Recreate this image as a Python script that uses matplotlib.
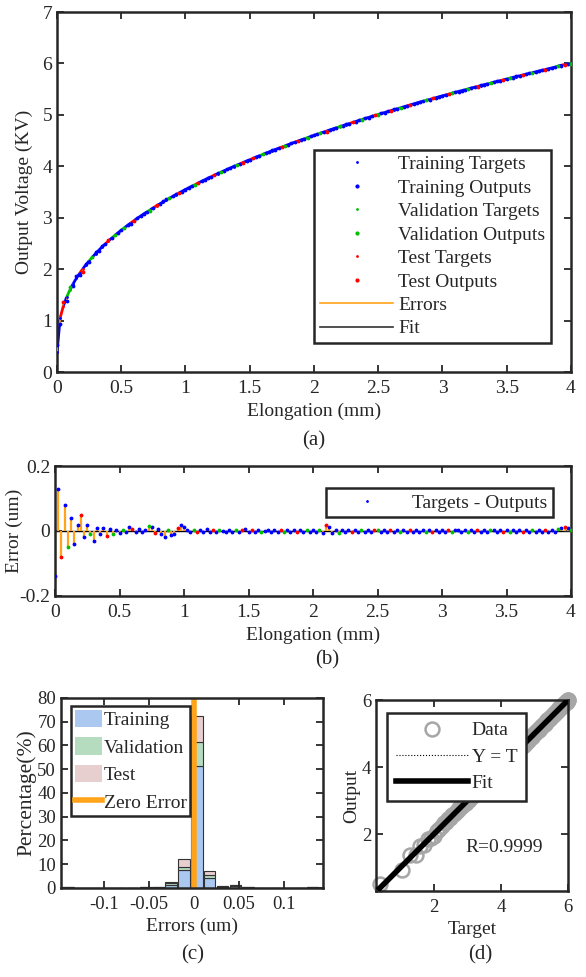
import numpy as np
import matplotlib
matplotlib.use("Agg")
import matplotlib.pyplot as plt
from matplotlib.patches import Patch
from matplotlib.lines import Line2D
from matplotlib.collections import LineCollection

# sample grid of the measurement (mm), 0.025 mm apart
elongation_mm = np.linspace(0, 4, 161)

target_kv = [
    0.38, 1.06, 1.29, 1.457, 1.595, 1.714, 1.820, 1.916, 2.004, 2.086,
    2.162, 2.235, 2.303, 2.369, 2.431, 2.490, 2.548, 2.603, 2.657, 2.708,
    2.759, 2.807, 2.854, 2.900, 2.946, 2.989, 3.032, 3.074, 3.115, 3.154,
    3.194, 3.233, 3.270, 3.307, 3.344, 3.379, 3.415, 3.449, 3.483, 3.517,
    3.550, 3.583, 3.615, 3.646, 3.678, 3.708, 3.739, 3.769, 3.798, 3.828,
    3.857, 3.885, 3.913, 3.941, 3.969, 3.996, 4.023, 4.050, 4.076, 4.103,
    4.129, 4.154, 4.180, 4.205, 4.230, 4.255, 4.279, 4.304, 4.328, 4.352,
    4.375, 4.399, 4.422, 4.445, 4.468, 4.491, 4.513, 4.536, 4.558, 4.580,
    4.602, 4.624, 4.645, 4.666, 4.688, 4.709, 4.729, 4.751, 4.771, 4.792,
    4.812, 4.832, 4.852, 4.872, 4.892, 4.912, 4.932, 4.951, 4.971, 4.990,
    5.009, 5.028, 5.047, 5.066, 5.085, 5.103, 5.122, 5.140, 5.158, 5.177,
    5.195, 5.213, 5.231, 5.249, 5.266, 5.284, 5.301, 5.319, 5.336, 5.353,
    5.370, 5.388, 5.405, 5.422, 5.439, 5.456, 5.472, 5.489, 5.505, 5.522,
    5.538, 5.554, 5.571, 5.587, 5.603, 5.619, 5.635, 5.651, 5.666, 5.682,
    5.698, 5.714, 5.730, 5.745, 5.761, 5.776, 5.791, 5.806, 5.822, 5.837,
    5.852, 5.867, 5.882, 5.897, 5.912, 5.926, 5.950, 5.965, 5.980, 5.995,
    6.000,
]

errors = [
    -0.14, 0.13, -0.08, 0.08, -0.05, 0.04, -0.04, 0.02, 0.05, -0.02,
    0.02, -0.01, -0.03, 0.01, -0.01, 0.008, -0.015, 0.005, -0.01, 0.004,
    -0.005, 0.003, -0.004, 0.012, 0.005, -0.003, 0.006, -0.004, 0.004, 0.015,
    0.012, -0.006, 0.006, -0.01, -0.018, 0.003, -0.012, -0.008, 0.01, 0.02,
    0.012, 0.004, -0.003, 0.002, -0.004, 0.003, -0.002, 0.005, -0.003, 0.002,
    -0.004, 0.003, 0.001, -0.003, 0.004, -0.002, 0.003, -0.004, 0.002, 0.005,
    -0.003, 0.002, -0.002, 0.004, -0.003, 0.001, 0.003, -0.004, 0.002, -0.002,
    0.003, -0.003, 0.004, -0.002, 0.002, -0.004, 0.003, -0.002, 0.004, -0.003,
    0.002, -0.004, 0.003, -0.005, 0.018, 0.012, -0.006, 0.004, -0.005, 0.003,
    -0.003, 0.002, -0.002, 0.003, -0.004, 0.002, -0.002, 0.003, -0.003, 0.002,
    0.003, -0.002, 0.002, -0.003, 0.004, -0.002, 0.002, -0.003, 0.003, -0.002,
    0.002, -0.003, 0.003, -0.002, 0.004, -0.003, 0.002, -0.002, 0.003, -0.004,
    0.002, -0.002, 0.003, -0.003, 0.002, 0.004, -0.002, 0.003, -0.003, 0.002,
    -0.002, 0.003, -0.004, 0.002, -0.003, 0.002, 0.003, -0.002, 0.002, -0.003,
    0.003, -0.002, 0.004, -0.003, 0.002, -0.002, 0.003, -0.003, 0.002, -0.002,
    0.003, -0.002, 0.004, -0.003, 0.004, -0.002, 0.006, 0.01, 0.012, 0.008,
    0.003,
]

# T = training, V = validation, S = test
split = ("TTSTVTTTSTTVTTTTSTVT" "TVTTSTTTTVTSTTTVTTST" "TTTVSTTTTSTVTTTTVTST"
         "TSTTVTTTTTSVTTTSTTVT" "TTVTSTTTVTTTSTTVTTTS" "VTTTSTTVTTSTTTTVTSTT"
         "TTSVTTTTVTTSTTTVTTTS" "TVTTTSTTVTTTSTTTVTST" "V")

hist_centers = [-0.140, -0.1257, -0.1114, -0.0971, -0.0829, -0.0686, -0.0543,
                -0.0400, -0.0257, -0.0114, 0.0029, 0.0171, 0.0314, 0.0457,
                0.0600, 0.0743, 0.0886, 0.1029, 0.1171, 0.1314]
hist_train = [0.3, 0.1, 0.1, 0.1, 0.2, 0.1, 0.3, 0.4, 1.2, 7.5,
              51.5, 4.0, 0.6, 1.0, 0.3, 0.1, 0.1, 0.1, 0.1, 0.3]
hist_val = [0.0, 0.0, 0.0, 0.0, 0.0, 0.0, 0.0, 0.1, 1.0, 1.5,
            10.0, 1.5, 0.1, 0.2, 0.0, 0.0, 0.0, 0.0, 0.0, 0.0]
hist_test = [0.0, 0.0, 0.0, 0.0, 0.0, 0.0, 0.0, 0.1, 0.4, 3.0,
             11.0, 1.5, 0.1, 0.0, 0.0, 0.0, 0.0, 0.0, 0.0, 0.0]

plt.rcParams['font.family'] = ['Liberation Serif', 'DejaVu Serif']
plt.rcParams['xtick.direction'] = 'in'
plt.rcParams['ytick.direction'] = 'in'
plt.rcParams['xtick.top'] = True
plt.rcParams['ytick.right'] = True
plt.rcParams['xtick.major.size'] = 5
plt.rcParams['ytick.major.size'] = 5
plt.rcParams['xtick.major.width'] = 1.3
plt.rcParams['ytick.major.width'] = 1.3
plt.rcParams['xtick.major.pad'] = 6
plt.rcParams['axes.linewidth'] = 1.8
plt.rcParams['axes.edgecolor'] = '#262626'
plt.rcParams['xtick.color'] = '#262626'
plt.rcParams['ytick.color'] = '#262626'
plt.rcParams['text.color'] = '#262626'
plt.rcParams['axes.labelcolor'] = '#262626'

x = np.asarray(elongation_mm)
t = np.asarray(target_kv)
err = np.asarray(errors)
out = t - err
codes = np.array(list(split))

ORANGE = '#ffa31a'
colors = {'T': '#0000ff', 'V': '#00c000', 'S': '#ff0000'}
names = {'T': 'Training', 'V': 'Validation', 'S': 'Test'}
FS = 14

fig = plt.figure(figsize=(5.86, 9.77), dpi=100)

# ---- (a) response ----
ax = fig.add_axes([0.0973, 0.6192, 0.877, 0.3685])
segs = [[(x[i], t[i]), (x[i + 1], t[i + 1])] for i in range(len(x) - 1)]
ax.add_collection(LineCollection(segs, colors=[colors[c] for c in codes[1:]], lw=2.0, zorder=2))
ax.vlines(x, t, out, color=ORANGE, lw=1.2, zorder=3)
for c in 'TVS':
    m = codes == c
    ax.plot(x[m], t[m], '.', color=colors[c], ms=2, zorder=4)
    ax.plot(x[m], out[m], '.', color=colors[c], ms=3.5, zorder=5)
ax.set_xlim(0, 4)
ax.set_ylim(0, 7)
ax.set_xticks([0, 0.5, 1, 1.5, 2, 2.5, 3, 3.5, 4])
ax.set_xticklabels(['0', '0.5', '1', '1.5', '2', '2.5', '3', '3.5', '4'])
ax.tick_params(labelsize=FS)
ax.set_xlabel('Elongation (mm)', fontsize=FS, labelpad=4)
ax.set_ylabel('Output Voltage (KV)', fontsize=FS, labelpad=7)
handles = []
for c in 'TVS':
    handles.append(Line2D([], [], ls='none', marker='.', ms=2, color=colors[c],
                          label=names[c] + ' Targets'))
    handles.append(Line2D([], [], ls='none', marker='.', ms=4, color=colors[c],
                          label=names[c] + ' Outputs'))
handles.append(Line2D([], [], color=ORANGE, lw=1.2, label='Errors'))
handles.append(Line2D([], [], color='#333333', lw=1.2, label='Fit'))
leg = ax.legend(handles=handles, loc='lower right', bbox_to_anchor=(0.961, 0.08),
                fontsize=FS, handlelength=3.75, handletextpad=0.25, labelspacing=0.3,
                borderpad=0.3, borderaxespad=0, fancybox=False, edgecolor='#262626',
                framealpha=1)
leg.get_frame().set_linewidth(1.8)
fig.text(0.536, 0.5486, '(a)', ha='center', va='center', fontsize=15)

# ---- (b) error ----
ax = fig.add_axes([0.0939, 0.390, 0.8805, 0.133])
ax.axhline(0, color='k', lw=1, zorder=1)
ax.vlines(x, 0, err, color=ORANGE, lw=1.6, zorder=2)
for c in 'TVS':
    m = codes == c
    ax.plot(x[m], err[m], '.', color=colors[c], ms=3.5, zorder=3)
ax.set_xlim(0, 4)
ax.set_ylim(-0.2, 0.2)
ax.set_yticks([-0.2, 0, 0.2])
ax.set_yticklabels(['-0.2', '0', '0.2'])
ax.set_xticks([0, 0.5, 1, 1.5, 2, 2.5, 3, 3.5, 4])
ax.set_xticklabels(['0', '0.5', '1', '1.5', '2', '2.5', '3', '3.5', '4'])
ax.tick_params(labelsize=FS)
ax.set_xlabel('Elongation (mm)', fontsize=FS, labelpad=4)
ax.set_ylabel('Error (um)', fontsize=FS)
ax.yaxis.set_label_coords(-0.062, 0.5)
leg = ax.legend(handles=[Line2D([], [], ls='none', marker='.', ms=2, color='#0000ff',
                                label='Targets - Outputs')],
                loc='upper right', bbox_to_anchor=(0.965, 0.83), fontsize=FS,
                handlelength=3.6, handletextpad=0.5, borderpad=0.3, borderaxespad=0,
                fancybox=False, edgecolor='#262626', framealpha=1)
leg.get_frame().set_linewidth(1.8)
fig.text(0.558, 0.3245, '(b)', ha='center', va='center', fontsize=15)

# ---- (c) error histogram ----
ax = fig.add_axes([0.104, 0.0911, 0.447, 0.1945])
bw = 0.0128
tr = np.asarray(hist_train)
va = np.asarray(hist_val)
te = np.asarray(hist_test)
ax.bar(hist_centers, tr, width=bw, color='#aac8f0', edgecolor='#333333', lw=0.8)
ax.bar(hist_centers, va, width=bw, bottom=tr, color='#b6dcc0', edgecolor='#333333', lw=0.8)
ax.bar(hist_centers, te, width=bw, bottom=tr + va, color='#e8cfcf', edgecolor='#333333', lw=0.8)
ax.axvline(0, color=ORANGE, lw=4)
ax.set_xlim(-0.148, 0.143)
ax.set_ylim(0, 80)
ax.set_yticks(range(0, 81, 10))
ax.set_xticks([-0.1, -0.05, 0, 0.05, 0.1])
ax.set_xticklabels(['-0.1', '-0.05', '0', '0.05', '0.1'])
ax.tick_params(labelsize=13.5)
ax.set_xlabel('Errors (um)', fontsize=FS, labelpad=3)
ax.set_ylabel('Percentage(%)', fontsize=15.5, labelpad=1)
hh = [Patch(facecolor='#aac8f0', label='Training'),
      Patch(facecolor='#b6dcc0', label='Validation'),
      Patch(facecolor='#e8cfcf', label='Test'),
      Line2D([], [], color=ORANGE, lw=4, label='Zero Error')]
leg = ax.legend(handles=hh, loc='upper left', bbox_to_anchor=(0.038, 0.958),
                fontsize=FS, handlelength=1.4, handleheight=1.0, handletextpad=0.08,
                labelspacing=0.42, borderpad=0.2, borderaxespad=0,
                fancybox=False, edgecolor='#262626', framealpha=1)
leg.get_frame().set_linewidth(1.8)
fig.text(0.328, 0.0225, '(c)', ha='center', va='center', fontsize=15)

# ---- (d) regression ----
ax = fig.add_axes([0.6416, 0.088, 0.3277, 0.1955])
ax.plot(t, out, 'o', mfc='none', mec='#a6a6a6', ms=10, mew=1.8, zorder=2, clip_on=False)
k, b = np.polyfit(t, out, 1)
ax.plot([t.min(), t.max()], [k * t.min() + b, k * t.max() + b], color='k', lw=4, zorder=3)
ax.plot([t.min(), t.max()], [t.min(), t.max()], ':', color='k', lw=0.8, zorder=1)
ax.set_xlim(0.27, 6)
ax.set_ylim(0.3, 6)
ax.set_xticks([2, 4, 6])
ax.set_yticks([2, 4, 6])
ax.tick_params(labelsize=13.5)
ax.set_xlabel('Target', fontsize=FS, labelpad=3)
ax.set_ylabel('Output', fontsize=FS, labelpad=1)
ax.text(2.93, 1.61, 'R=0.9999', fontsize=FS, ha='left', va='center')
hh = [Line2D([], [], ls='none', marker='o', mfc='none', mec='#a6a6a6', ms=10, mew=1.8, label='Data'),
      Line2D([], [], ls=':', color='k', lw=0.8, label='Y = T'),
      Line2D([], [], color='k', lw=4, label='Fit')]
leg = ax.legend(handles=hh, loc='upper left', bbox_to_anchor=(0.057, 0.932),
                fontsize=FS, handlelength=3.7, handletextpad=0.2, labelspacing=0.45,
                borderpad=0.45, borderaxespad=0,
                fancybox=False, edgecolor='#262626', framealpha=1)
leg.get_frame().set_linewidth(1.8)
fig.text(0.82, 0.0225, '(d)', ha='center', va='center', fontsize=15)

fig.savefig('out.png', dpi=100)
